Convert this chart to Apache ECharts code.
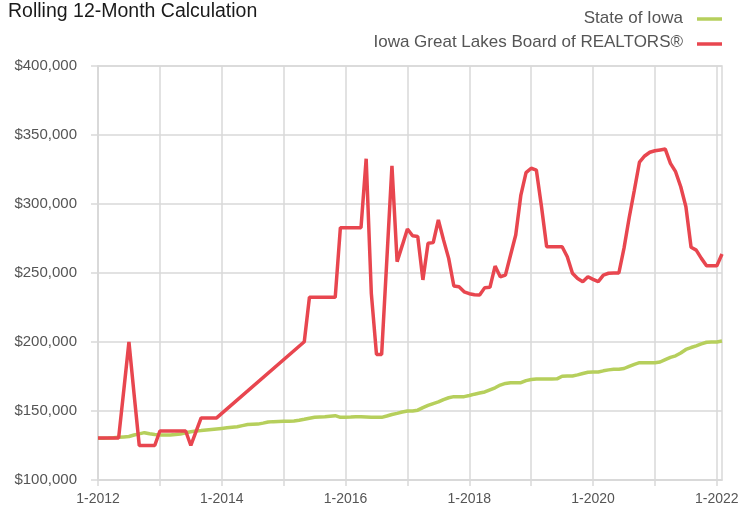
<!DOCTYPE html>
<html>
<head>
<meta charset="utf-8">
<script src="https://cdn.jsdelivr.net/npm/echarts@6/dist/echarts.min.js"></script>
<style>
html,body{margin:0;padding:0;background:#fff;}
#chart{width:753px;height:515px;}
</style>
</head>
<body>
<div id="chart"></div>
<script>
// Monthly categories Jan 2012 .. Feb 2022
var startYear = 2012;
var monthCount = 122;
var categories = [];
for (var i = 0; i < monthCount; i++) {
  categories.push(((i % 12) + 1) + '-' + (startYear + Math.floor(i / 12)));
}

var titleText = 'Rolling 12-Month Calculation';
var seriesNames = ['State of Iowa', 'Iowa Great Lakes Board of REALTORS®'];
var seriesColors = ['#b6cf5c', '#e8464f'];

// State of Iowa (thousands of $)
var stateOfIowa = [
  130.2,130.3,130.4,130.6,130.9,131.2,131.5,132.6,133.4,134.3,133.5,133.0,
  132.6,132.6,132.6,132.9,133.3,134.2,135.0,135.5,135.8,136.2,136.6,137.0,
  137.4,137.8,138.2,138.6,139.4,140.2,140.4,140.5,141.2,142.0,142.3,142.4,
  142.5,142.6,142.8,143.3,144.0,144.8,145.4,145.6,145.8,146.2,146.6,145.4,
  145.5,145.6,145.8,145.9,145.7,145.5,145.4,145.4,146.4,147.5,148.3,149.3,
  150.0,150.0,150.6,152.4,154.0,155.4,156.6,158.3,159.6,160.4,160.4,160.4,
  161.2,162.2,163.0,163.8,165.3,166.8,168.8,170.0,170.5,170.5,170.5,172.0,
  172.8,173.2,173.2,173.2,173.2,173.3,175.2,175.4,175.4,176.2,177.2,178.1,
  178.3,178.3,179.1,179.8,180.2,180.2,180.8,182.4,183.8,185.0,185.0,185.0,
  185.0,185.5,187.2,188.8,190.0,192.0,194.6,196.0,197.2,198.6,199.8,200.0,
  200.0,200.7
];

// Iowa Great Lakes Board of REALTORS® (thousands of $); null = no data
var iowaGreatLakes = [
  130.5,130.5,130.5,130.5,130.5,165.0,200.0,162.0,125.0,125.0,125.0,125.0,
  135.5,135.5,135.5,135.5,135.5,135.5,125.0,135.0,145.0,145.0,145.0,145.0,
  null,null,null,null,null,null,null,null,null,null,null,null,
  null,null,null,null,200.2,232.4,232.4,232.4,232.4,232.4,232.4,282.8,
  282.8,282.8,282.8,282.8,332.8,235.3,191.0,191.0,259.0,327.7,258.2,270.0,
  281.9,277.0,276.5,245.0,271.5,272.0,288.4,274.0,260.6,240.6,240.0,236.4,
  235.0,234.3,234.0,239.4,239.6,255.0,247.3,248.5,263.0,277.5,306.5,322.7,
  325.9,324.6,298.0,269.0,269.0,269.0,269.0,261.8,249.8,246.0,243.7,247.3,
  245.4,243.7,248.5,249.8,250.0,250.0,268.0,290.0,310.0,330.4,334.8,337.5,
  338.6,339.2,339.8,329.5,323.4,312.5,298.0,268.6,266.6,260.6,255.3,255.3,
  255.3,263.8
];

var yMin = 100000, yMax = 400000, yStep = 50000;

function toDollars(arr) {
  return arr.map(function (v) { return v === null ? null : v * 1000; });
}
function fmtMoney(v) {
  return '$' + String(v).replace(/\B(?=(\d{3})+(?!\d))/g, ',');
}

var gridColor = '#d9d9d9';
var normal = "'Liberation Sans',Arial,sans-serif";

// Header: title + legend (text right-aligned, line swatch to its right)
var graphics = [
  {
    type: 'text', x: 8, y: 12,
    style: {text: titleText, font: '19.5px ' + normal, fill: '#1a1a1a',
            textAlign: 'left', textVerticalAlign: 'middle'}
  }
];
var legendRows = [18, 42];
var iconOffsets = [1, 2];
seriesNames.forEach(function (name, k) {
  graphics.push({
    type: 'text', x: 683, y: legendRows[k],
    style: {text: name, font: '17px ' + normal, fill: '#555',
            textAlign: 'right', textVerticalAlign: 'middle'}
  });
  graphics.push({
    type: 'rect',
    shape: {x: 697, y: legendRows[k] + iconOffsets[k] - 1.75, width: 25, height: 3.5},
    style: {fill: seriesColors[k]}
  });
});

var chart = echarts.init(document.getElementById('chart'), null, {renderer: 'canvas'});
chart.setOption({
  animation: false,
  backgroundColor: '#fff',
  graphic: graphics,
  grid: {
    left: 98, right: 31, top: 66, bottom: 35,
    show: true, borderColor: gridColor, borderWidth: 1.5
  },
  xAxis: {
    type: 'category',
    data: categories,
    boundaryGap: false,
    axisLine: {lineStyle: {color: gridColor, width: 1.5}},
    axisTick: {
      show: true, length: 6,
      interval: function (idx) { return idx % 12 === 0; },
      lineStyle: {color: gridColor, width: 1.5}
    },
    splitLine: {
      show: true,
      interval: function (idx) { return idx % 12 === 0; },
      lineStyle: {color: gridColor, width: 1.5}
    },
    axisLabel: {
      interval: function (idx) { return idx % 24 === 0; },
      margin: 12,
      fontFamily: normal, fontSize: 14, color: '#555'
    }
  },
  yAxis: {
    type: 'value',
    min: yMin, max: yMax, interval: yStep,
    axisLine: {show: true, lineStyle: {color: gridColor, width: 1.5}},
    axisTick: {show: true, length: 7, lineStyle: {color: gridColor, width: 1.5}},
    splitLine: {show: true, lineStyle: {color: gridColor, width: 1.5}},
    axisLabel: {
      margin: 21,
      formatter: fmtMoney,
      fontFamily: normal, fontSize: 15, color: '#555'
    }
  },
  series: [
    {
      name: seriesNames[0],
      type: 'line',
      data: toDollars(stateOfIowa),
      showSymbol: false, symbol: 'none',
      lineStyle: {color: seriesColors[0], width: 3.5},
      itemStyle: {color: seriesColors[0]}
    },
    {
      name: seriesNames[1],
      type: 'line',
      data: toDollars(iowaGreatLakes),
      connectNulls: true,
      showSymbol: false, symbol: 'none',
      lineStyle: {color: seriesColors[1], width: 3.5},
      itemStyle: {color: seriesColors[1]}
    }
  ]
});
</script>
</body>
</html>
